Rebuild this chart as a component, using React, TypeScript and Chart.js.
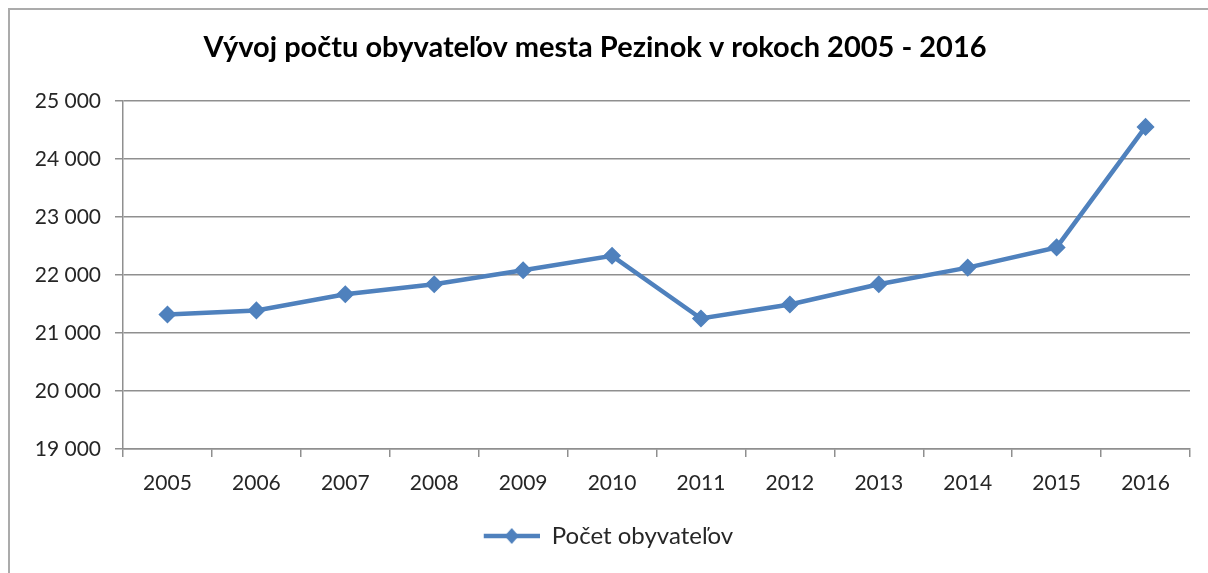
import { useEffect, useRef } from "react";
import { Chart, registerables } from "chart.js";

Chart.register(...registerables);

const TITLE = "Vývoj počtu obyvateľov mesta Pezinok v rokoch 2005 - 2016";
const SERIES_LABEL = "Počet obyvateľov";
const years = ["2005", "2006", "2007", "2008", "2009", "2010", "2011", "2012", "2013", "2014", "2015", "2016"];
const population = [21318, 21388, 21666, 21838, 22081, 22329, 21249, 21490, 21838, 22126, 22474, 24550];
const Y_MIN = 19000;
const Y_MAX = 25000;
const Y_STEP = 1000;

const FONT = "Lato";
const LINE_COLOR = "#4F81BD";
const GRID_COLOR = "#8f8f8f";
const TEXT_COLOR = "#262626";

function formatThousands(v: number): string {
  const th = Math.floor(v / 1000);
  const rest = String(Math.round(v % 1000)).padStart(3, "0");
  return `${th} ${rest}`;
}

function makeLegendImage(): HTMLCanvasElement {
  const pad = 27;
  const len = 56;
  const c = document.createElement("canvas");
  c.width = pad + len;
  c.height = 20;
  const ctx = c.getContext("2d")!;
  ctx.strokeStyle = LINE_COLOR;
  ctx.lineWidth = 4.5;
  ctx.beginPath();
  ctx.moveTo(pad, 10);
  ctx.lineTo(pad + len, 10);
  ctx.stroke();
  const cx = pad + len / 2;
  ctx.fillStyle = LINE_COLOR;
  ctx.beginPath();
  ctx.moveTo(cx, 2);
  ctx.lineTo(cx + 7, 10);
  ctx.lineTo(cx, 18);
  ctx.lineTo(cx - 7, 10);
  ctx.closePath();
  ctx.fill();
  return c;
}

const framePlugin = {
  id: "frame",
  beforeDraw(chart: any) {
    const ctx = chart.ctx;
    ctx.save();
    ctx.fillStyle = "#ffffff";
    ctx.fillRect(0, 0, chart.width, chart.height);
    ctx.strokeStyle = "#ababab";
    ctx.lineWidth = 2;
    ctx.beginPath();
    ctx.moveTo(9, chart.height);
    ctx.lineTo(9, 9);
    ctx.lineTo(chart.width, 9);
    ctx.stroke();
    ctx.restore();
  },
};

export default function App() {
  const ref = useRef<HTMLCanvasElement | null>(null);

  useEffect(() => {
    if (!ref.current) return;
    const legendImg = makeLegendImage();
    const chart = new Chart(ref.current, {
      type: "line",
      data: {
        labels: years,
        datasets: [
          {
            label: SERIES_LABEL,
            data: population,
            borderColor: LINE_COLOR,
            backgroundColor: LINE_COLOR,
            borderWidth: 4.5,
            pointStyle: "rectRot",
            pointRadius: 8,
            pointBorderWidth: 1.5,
            pointBackgroundColor: LINE_COLOR,
            pointBorderColor: LINE_COLOR,
            tension: 0,
          },
        ],
      },
      options: {
        animation: false,
        responsive: false,
        devicePixelRatio: 1,
        layout: { padding: { left: 0, right: 18, top: 0, bottom: 15 } },
        plugins: {
          title: {
            display: true,
            text: TITLE,
            color: "#000",
            font: { family: FONT, size: 29, weight: "bold" },
            padding: { top: 30, bottom: 36 },
          },
          legend: {
            position: "bottom",
            labels: {
              usePointStyle: true,
              pointStyleWidth: 83,
              boxHeight: 24,
              padding: 10,
              color: TEXT_COLOR,
              font: { family: FONT, size: 24 },
              generateLabels: () => [
                {
                  text: SERIES_LABEL,
                  pointStyle: legendImg,
                  fillStyle: LINE_COLOR,
                  strokeStyle: LINE_COLOR,
                  lineWidth: 0,
                  hidden: false,
                  datasetIndex: 0,
                  fontColor: TEXT_COLOR,
                } as any,
              ],
            },
          },
          tooltip: { enabled: false },
        },
        scales: {
          x: {
            type: "category",
            offset: true,
            grid: {
              offset: true,
              drawOnChartArea: false,
              drawTicks: true,
              tickLength: 8,
              color: GRID_COLOR,
              lineWidth: 1.5,
            },
            border: { display: true, color: GRID_COLOR, width: 1.5 },
            ticks: {
              padding: 14,
              color: TEXT_COLOR,
              font: { family: FONT, size: 21 },
              maxRotation: 0,
            },
            afterFit: (s: any) => {
              s.height = 65;
            },
          },
          y: {
            min: Y_MIN,
            max: Y_MAX,
            ticks: {
              stepSize: Y_STEP,
              padding: 14,
              color: TEXT_COLOR,
              font: { family: FONT, size: 21 },
              callback: (v: any) => formatThousands(Number(v)),
            },
            grid: { color: GRID_COLOR, lineWidth: 1.5, tickLength: 8 },
            border: { display: true, color: GRID_COLOR, width: 1.5 },
            afterFit: (s: any) => {
              s.width = 123;
            },
          },
        },
      },
      plugins: [framePlugin],
    });
    return () => chart.destroy();
  }, []);

  return (
    <div style={{ position: "absolute", left: 0, top: 0, width: 1208, height: 573 }}>
      <canvas ref={ref} width={1208} height={573} style={{ display: "block" }} />
    </div>
  );
}
